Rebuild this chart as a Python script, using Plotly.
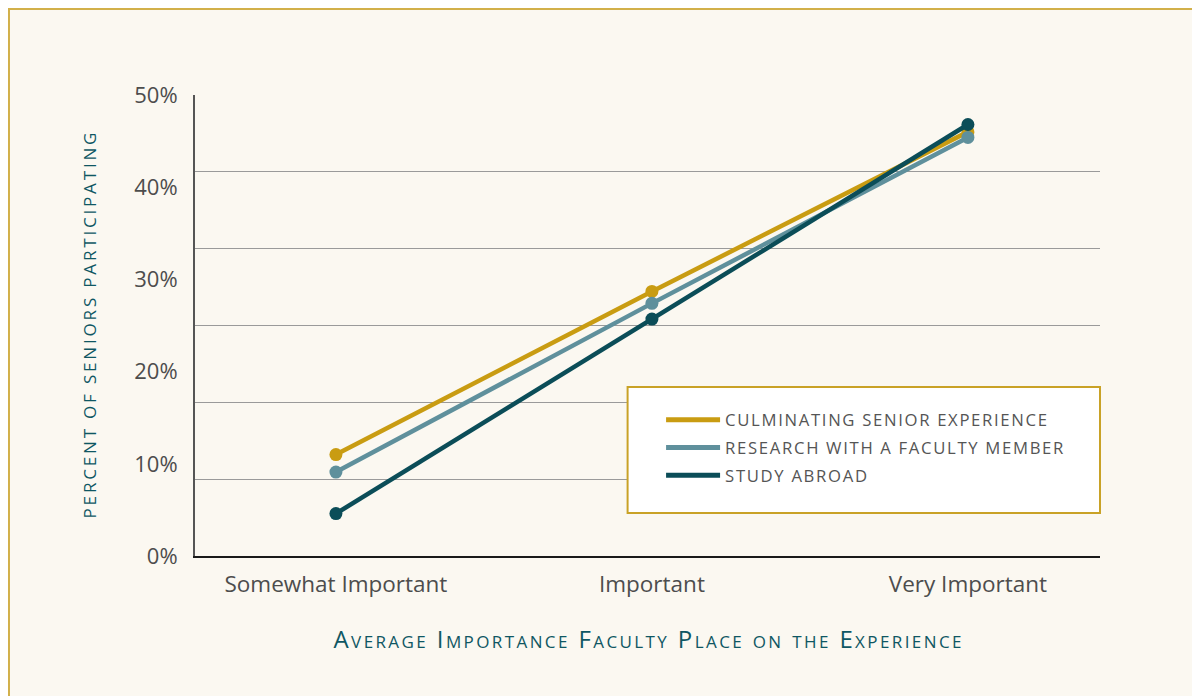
import plotly.graph_objects as go

categories = ["Somewhat Important", "Important", "Very Important"]
culminating = [11.0, 28.7, 46.0]
research = [9.1, 27.4, 45.4]
study_abroad = [4.6, 25.7, 46.8]
series_names = ["CULMINATING SENIOR EXPERIENCE", "RESEARCH WITH A FACULTY MEMBER", "STUDY ABROAD"]
series_colors = ["#c99c12", "#5f909c", "#0b4d58"]
y_tick_vals = [0, 10, 20, 30, 40, 50]
y_tick_text = ["0%", "10%", "20%", "30%", "40%", "50%"]
grid_vals = [0, 50 / 6, 100 / 6, 25, 200 / 6, 250 / 6, 50]

FONT = "Open Sans"
TEAL = "#0f5763"
CREAM = "#fbf8f1"
GOLD = "#c9a227"
HAIR = "\u200a"
THIN = "\u2009"


def spaced(s, sep):
    return sep.join(s)


fig = go.Figure()
x_idx = list(range(len(categories)))
for name, vals, col in zip(series_names, [culminating, research, study_abroad], series_colors):
    fig.add_trace(go.Scatter(
        x=x_idx, y=vals, mode="lines+markers", showlegend=False,
        line=dict(color=col, width=4.5), marker=dict(color=col, size=13),
        hoverinfo="skip", yaxis="y"))
for i, (name, col) in enumerate(zip(series_names, series_colors)):
    fig.add_trace(go.Scatter(
        x=[None], y=[None], mode="lines", name=spaced(name, HAIR), legendgroup="g%d" % i,
        line=dict(color=col, width=5), showlegend=True))

# invisible trace to hold the labels axis
fig.add_trace(go.Scatter(x=[None], y=[None], yaxis="y2", showlegend=False))

fig.update_layout(
    width=1200, height=696,
    margin=dict(l=187, r=108, t=87, b=148),
    paper_bgcolor="white",
    plot_bgcolor="rgba(0,0,0,0)",
    font=dict(family=FONT, color="#4d4d4d"),
    xaxis=dict(
        range=[-0.446, 2.418], tickmode="array", tickvals=x_idx, ticktext=categories,
        showgrid=False, zeroline=False, showline=True, linecolor="#1a1a1a", linewidth=2,
        ticks="outside", ticklen=7, tickcolor="rgba(0,0,0,0)",
        tickfont=dict(size=22.5, color="#4d4d4d"),
        title=dict(text=spaced("Average Importance Faculty Place on the Experience", HAIR),
                   font=dict(size=24, color=TEAL, variant="small-caps"), standoff=33),
    ),
    yaxis=dict(
        range=[0, 50], tickmode="array", tickvals=grid_vals, showticklabels=False,
        showgrid=True, gridcolor="#9a9a9a", gridwidth=1, zeroline=False,
        showline=True, linecolor="#555555", linewidth=1.5, ticks="",
        title=dict(text=spaced("PERCENT OF SENIORS PARTICIPATING", THIN),
                   font=dict(size=17, color=TEAL), standoff=92),
    ),
    yaxis2=dict(
        range=[0, 50], overlaying="y", side="left", tickmode="array",
        tickvals=y_tick_vals, ticktext=y_tick_text, showgrid=False, zeroline=False,
        showline=False, ticks="outside", ticklen=12, tickcolor="rgba(0,0,0,0)",
        tickfont=dict(size=22, color="#4d4d4d"),
    ),
    legend=dict(
        x=0.515, y=0.333, xanchor="left", yanchor="top",
        bgcolor="rgba(0,0,0,0)", borderwidth=0,
        font=dict(size=16.7, color="#555555", family=FONT),
        itemwidth=54, traceorder="grouped", tracegroupgap=3,
    ),
    shapes=[
        dict(type="rect", xref="paper", yref="paper", x0=-0.2061, x1=1.2, y0=-0.4, y1=1.1877,
             fillcolor=CREAM, line=dict(color="#d2b04a", width=3), layer="below"),
        dict(type="rect", xref="paper", yref="paper", x0=0.478, x1=1.0, y0=0.0933, y1=0.3666,
             fillcolor="white", line=dict(color=GOLD, width=2), layer="above"),
    ],
)

fig.write_html("out.html")
